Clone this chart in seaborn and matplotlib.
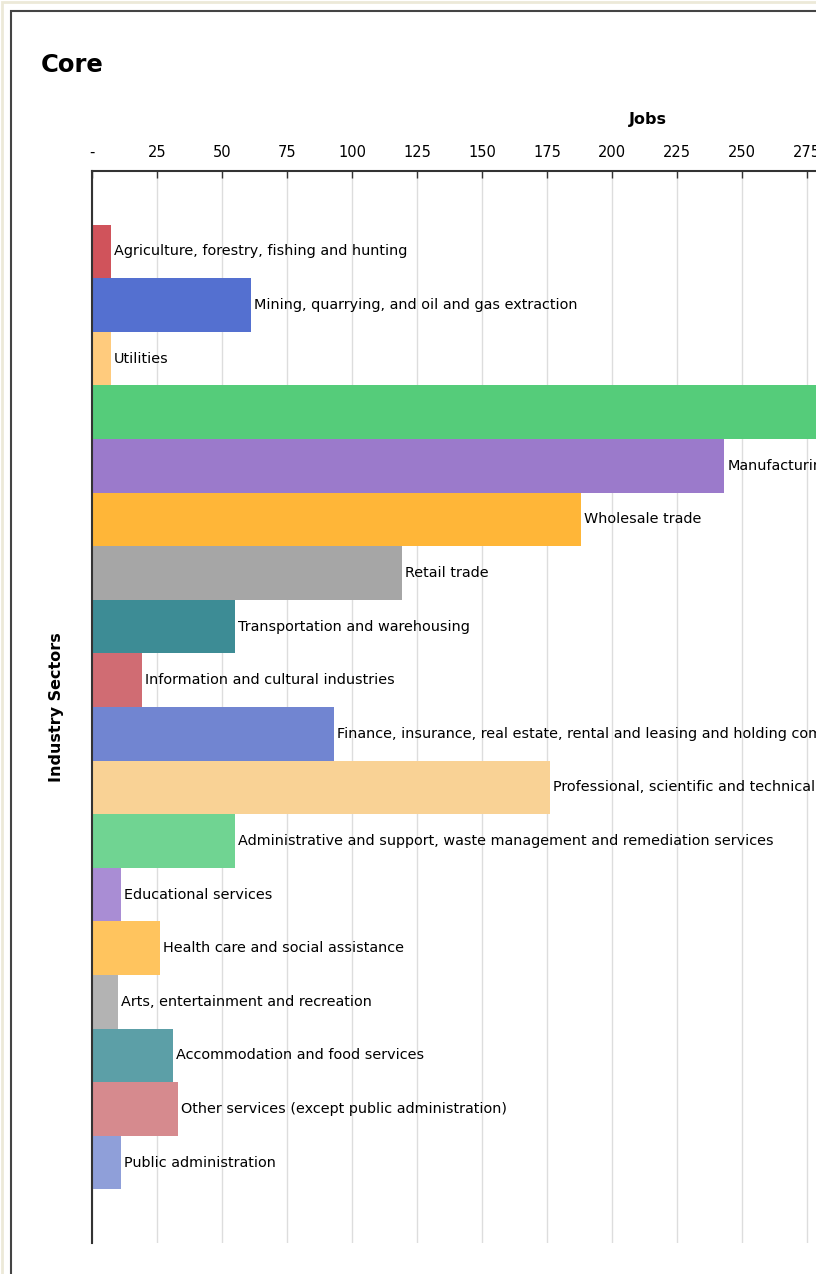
import matplotlib
matplotlib.use('Agg')
import matplotlib.pyplot as plt
from matplotlib.patches import Rectangle
import seaborn as sns
import pandas as pd

# --- data ---
sectors = [
    'Agriculture, forestry, fishing and hunting',
    'Mining, quarrying, and oil and gas extraction',
    'Utilities',
    'Construction',
    'Manufacturing',
    'Wholesale trade',
    'Retail trade',
    'Transportation and warehousing',
    'Information and cultural industries',
    'Finance, insurance, real estate, rental and leasing and holding companies',
    'Professional, scientific and technical services',
    'Administrative and support, waste management and remediation services',
    'Educational services',
    'Health care and social assistance',
    'Arts, entertainment and recreation',
    'Accommodation and food services',
    'Other services (except public administration)',
    'Public administration',
]
jobs = [7, 61, 7, 310, 243, 188, 119, 55, 19, 93, 176, 55, 11, 26, 10, 31, 33, 11]
colors = [
    '#D0535B', '#5470D0', '#FFCB7D', '#55CC7A', '#9B7ACB', '#FFB638',
    '#A6A6A6', '#3D8C95', '#D06C73', '#7185D1', '#F9D295', '#70D492',
    '#A98DD4', '#FFC45E', '#B3B3B3', '#5C9FA7', '#D68A8E', '#8F9FD9',
]
tick_values = list(range(0, 426, 25))
tick_labels = ['-'] + [str(v) for v in tick_values[1:]]

df = pd.DataFrame({'sector': sectors, 'jobs': jobs})

sns.set_style('white')
plt.rcParams['font.family'] = ['DejaVu Sans']
plt.rcParams['text.color'] = 'black'

W, H = 816, 1274
fig = plt.figure(figsize=(W / 100, H / 100), dpi=100)

# axes: left edge at x=92, top at y=171, bottom at y=1243, 2.6 px per job
# (the right part runs past the figure edge, as in the cropped original)
x_max = 427
ax = fig.add_axes([92.3 / W, 31 / H, x_max * 2.6 / W, 1072 / H])

sns.barplot(data=df, x='jobs', y='sector', hue='sector', palette=colors,
            orient='h', width=1.0, linewidth=0, saturation=1, legend=False,
            ax=ax, zorder=2)

ax.set_xlim(0, x_max)
ax.set_ylim(len(sectors) + 0.5, -1.5)

# labels next to bar ends
for i, (name, v) in enumerate(zip(sectors, jobs)):
    ax.text(v + 1.2, i, name, va='center', ha='left', fontsize=10.4,
            color='black', zorder=3)

ax.xaxis.tick_top()
ax.xaxis.set_label_position('top')
ax.set_xticks(tick_values)
ax.set_xticklabels(tick_labels, fontsize=10.5, color='black')
ax.tick_params(axis='x', direction='in', length=5, width=1, color='#333333', pad=8)
ax.set_yticks([(len(sectors) - 1) / 2])
ax.set_yticklabels([''])
ax.tick_params(axis='y', direction='out', length=5, width=1, color='#333333')

ax.grid(axis='x', color='#DDDDDD', linewidth=1, zorder=0)
ax.set_axisbelow(True)

for side in ['right', 'bottom']:
    ax.spines[side].set_visible(False)
for side in ['top', 'left']:
    ax.spines[side].set_color('#333333')
    ax.spines[side].set_linewidth(1.5)

ax.set_xlabel('Jobs', fontsize=11.5, fontweight='bold', labelpad=15, color='black')
ax.set_ylabel('Industry Sectors', fontsize=11.5, fontweight='bold', labelpad=12,
              color='black')

fig.text(41 / W, 1 - 65 / H, 'Core', fontsize=17.5, fontweight='bold',
         va='center', ha='left', color='black')

# frame lines
fig.add_artist(Rectangle((2 / W, -0.1), 2.0, 1.1 - 2 / H, transform=fig.transFigure,
                         fill=False, edgecolor='#ECE9D8', linewidth=2))
fig.add_artist(Rectangle((10.5 / W, -0.1), 2.0, 1.1 - 11 / H, transform=fig.transFigure,
                         fill=False, edgecolor='#444444', linewidth=1.5))

fig.savefig('out.png', dpi=100)
